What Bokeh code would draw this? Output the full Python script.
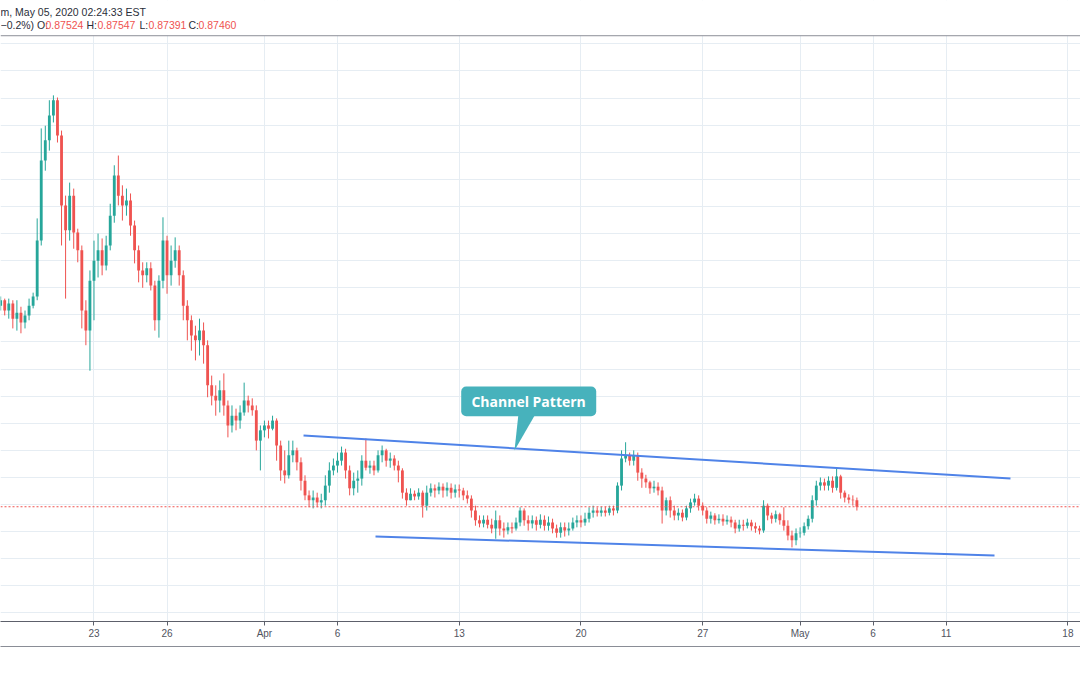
from bokeh.plotting import figure
from bokeh.models import (Range1d, FixedTicker, SingleIntervalTicker, Span, BoxAnnotation,
                          Label, LinearAxis, ColumnDataSource)
from bokeh.embed import file_html
from bokeh.resources import INLINE

# EUR/GBP 4-hour candles, Mar 17 - May 5 2020 (weekends removed, 6 bars per session)
open_ = [
    0.9117, 0.9127, 0.9108, 0.9121, 0.9093, 0.9104, 0.9086, 0.9099, 0.9117, 0.9134,
    0.9237, 0.9385, 0.9422, 0.9468, 0.9496, 0.9431, 0.9302, 0.9256, 0.9320, 0.9252,
    0.9219, 0.9108, 0.9071, 0.9163, 0.9200, 0.9219, 0.9191, 0.9228, 0.9283, 0.9357,
    0.9320, 0.9302, 0.9311, 0.9265, 0.9219, 0.9182, 0.9173, 0.9186, 0.9154, 0.9090,
    0.9163, 0.9237, 0.9173, 0.9200, 0.9219, 0.9173, 0.9117, 0.9090, 0.9062, 0.9053,
    0.9071, 0.9044, 0.8970, 0.8951, 0.8942, 0.8961, 0.8933, 0.8896, 0.8914, 0.8905,
    0.8920, 0.8942, 0.8933, 0.8924, 0.8868, 0.8887, 0.8896, 0.8890, 0.8905, 0.8859,
    0.8813, 0.8804, 0.8841, 0.8850, 0.8828, 0.8794, 0.8767, 0.8758, 0.8763, 0.8754,
    0.8758, 0.8785, 0.8813, 0.8822, 0.8831, 0.8846, 0.8813, 0.8780, 0.8794, 0.8798,
    0.8831, 0.8818, 0.8822, 0.8813, 0.8841, 0.8850, 0.8831, 0.8835, 0.8822, 0.8813,
    0.8772, 0.8758, 0.8770, 0.8765, 0.8772, 0.8748, 0.8772, 0.8780, 0.8776, 0.8783,
    0.8776, 0.8781, 0.8772, 0.8778, 0.8776, 0.8767, 0.8761, 0.8739, 0.8721, 0.8715,
    0.8722, 0.8713, 0.8706, 0.8721, 0.8706, 0.8702, 0.8708, 0.8706, 0.8717, 0.8739,
    0.8721, 0.8715, 0.8721, 0.8713, 0.8722, 0.8711, 0.8717, 0.8706, 0.8698, 0.8708,
    0.8702, 0.8706, 0.8717, 0.8721, 0.8717, 0.8724, 0.8735, 0.8739, 0.8735, 0.8739,
    0.8735, 0.8743, 0.8739, 0.8785, 0.8835, 0.8841, 0.8831, 0.8841, 0.8809, 0.8798,
    0.8791, 0.8780, 0.8783, 0.8776, 0.8739, 0.8758, 0.8739, 0.8730, 0.8735, 0.8726,
    0.8743, 0.8754, 0.8761, 0.8748, 0.8739, 0.8724, 0.8730, 0.8721, 0.8724, 0.8719,
    0.8722, 0.8717, 0.8706, 0.8713, 0.8711, 0.8717, 0.8710, 0.8706, 0.8702, 0.8748,
    0.8730, 0.8724, 0.8732, 0.8721, 0.8711, 0.8693, 0.8684, 0.8697, 0.8698, 0.8710,
    0.8724, 0.8758, 0.8785, 0.8791, 0.8785, 0.8794, 0.8781, 0.8802, 0.8772, 0.8763,
    0.8759, 0.8758,
]
high = [
    0.9134, 0.9130, 0.9130, 0.9127, 0.9127, 0.9115, 0.9108, 0.9130, 0.9141, 0.9278,
    0.9444, 0.9449, 0.9496, 0.9505, 0.9501, 0.9440, 0.9320, 0.9344, 0.9333, 0.9259,
    0.9228, 0.9127, 0.9182, 0.9237, 0.9250, 0.9241, 0.9246, 0.9305, 0.9376, 0.9394,
    0.9339, 0.9333, 0.9324, 0.9274, 0.9228, 0.9197, 0.9197, 0.9197, 0.9163, 0.9173,
    0.9280, 0.9246, 0.9228, 0.9243, 0.9228, 0.9182, 0.9127, 0.9099, 0.9080, 0.9093,
    0.9086, 0.9053, 0.8988, 0.8970, 0.8979, 0.8992, 0.8942, 0.8933, 0.8927, 0.8933,
    0.8975, 0.8951, 0.8946, 0.8933, 0.8896, 0.8905, 0.8905, 0.8914, 0.8909, 0.8868,
    0.8850, 0.8868, 0.8868, 0.8855, 0.8837, 0.8804, 0.8776, 0.8776, 0.8772, 0.8770,
    0.8804, 0.8828, 0.8835, 0.8846, 0.8857, 0.8853, 0.8822, 0.8809, 0.8813, 0.8841,
    0.8872, 0.8831, 0.8831, 0.8850, 0.8859, 0.8853, 0.8846, 0.8841, 0.8831, 0.8817,
    0.8780, 0.8780, 0.8776, 0.8780, 0.8776, 0.8785, 0.8789, 0.8787, 0.8791, 0.8789,
    0.8791, 0.8789, 0.8787, 0.8787, 0.8781, 0.8776, 0.8767, 0.8748, 0.8730, 0.8730,
    0.8730, 0.8724, 0.8739, 0.8730, 0.8717, 0.8717, 0.8717, 0.8726, 0.8745, 0.8743,
    0.8730, 0.8730, 0.8728, 0.8732, 0.8730, 0.8728, 0.8724, 0.8713, 0.8717, 0.8717,
    0.8717, 0.8726, 0.8730, 0.8730, 0.8735, 0.8745, 0.8748, 0.8745, 0.8746, 0.8746,
    0.8748, 0.8748, 0.8791, 0.8850, 0.8865, 0.8846, 0.8850, 0.8846, 0.8817, 0.8805,
    0.8794, 0.8794, 0.8791, 0.8783, 0.8763, 0.8765, 0.8748, 0.8743, 0.8741, 0.8748,
    0.8761, 0.8770, 0.8767, 0.8754, 0.8745, 0.8737, 0.8734, 0.8732, 0.8732, 0.8730,
    0.8728, 0.8722, 0.8722, 0.8722, 0.8724, 0.8722, 0.8717, 0.8711, 0.8758, 0.8752,
    0.8735, 0.8739, 0.8735, 0.8745, 0.8721, 0.8702, 0.8706, 0.8708, 0.8717, 0.8730,
    0.8767, 0.8794, 0.8800, 0.8798, 0.8802, 0.8802, 0.8817, 0.8805, 0.8776, 0.8769,
    0.8767, 0.8763,
]
low = [
    0.9108, 0.9099, 0.9093, 0.9075, 0.9071, 0.9066, 0.9075, 0.9090, 0.9112, 0.9127,
    0.9228, 0.9366, 0.9403, 0.9455, 0.9418, 0.9228, 0.9130, 0.9237, 0.9222, 0.9197,
    0.9075, 0.9044, 0.8997, 0.9090, 0.9169, 0.9173, 0.9182, 0.9219, 0.9270, 0.9302,
    0.9274, 0.9283, 0.9246, 0.9195, 0.9160, 0.9150, 0.9160, 0.9145, 0.9071, 0.9058,
    0.9149, 0.9139, 0.9154, 0.9187, 0.9154, 0.9090, 0.9053, 0.9034, 0.9016, 0.9025,
    0.9010, 0.8948, 0.8933, 0.8914, 0.8920, 0.8914, 0.8874, 0.8883, 0.8887, 0.8890,
    0.8914, 0.8920, 0.8914, 0.8850, 0.8813, 0.8874, 0.8872, 0.8887, 0.8831, 0.8794,
    0.8789, 0.8798, 0.8828, 0.8813, 0.8776, 0.8758, 0.8745, 0.8743, 0.8745, 0.8743,
    0.8748, 0.8772, 0.8804, 0.8809, 0.8822, 0.8798, 0.8767, 0.8767, 0.8772, 0.8785,
    0.8813, 0.8807, 0.8804, 0.8809, 0.8828, 0.8820, 0.8818, 0.8813, 0.8791, 0.8761,
    0.8748, 0.8758, 0.8758, 0.8759, 0.8726, 0.8739, 0.8765, 0.8763, 0.8769, 0.8763,
    0.8765, 0.8761, 0.8763, 0.8763, 0.8758, 0.8752, 0.8726, 0.8711, 0.8708, 0.8708,
    0.8706, 0.8697, 0.8687, 0.8693, 0.8689, 0.8695, 0.8697, 0.8702, 0.8710, 0.8711,
    0.8702, 0.8706, 0.8702, 0.8706, 0.8702, 0.8702, 0.8697, 0.8689, 0.8689, 0.8691,
    0.8693, 0.8702, 0.8708, 0.8708, 0.8711, 0.8717, 0.8726, 0.8728, 0.8728, 0.8728,
    0.8730, 0.8730, 0.8734, 0.8776, 0.8828, 0.8822, 0.8822, 0.8794, 0.8781, 0.8781,
    0.8770, 0.8772, 0.8767, 0.8715, 0.8730, 0.8726, 0.8721, 0.8721, 0.8719, 0.8721,
    0.8735, 0.8748, 0.8739, 0.8730, 0.8715, 0.8715, 0.8713, 0.8715, 0.8711, 0.8713,
    0.8708, 0.8697, 0.8700, 0.8702, 0.8706, 0.8702, 0.8698, 0.8695, 0.8698, 0.8721,
    0.8715, 0.8717, 0.8713, 0.8702, 0.8684, 0.8671, 0.8675, 0.8689, 0.8693, 0.8704,
    0.8717, 0.8748, 0.8776, 0.8776, 0.8776, 0.8772, 0.8776, 0.8761, 0.8754, 0.8752,
    0.8748, 0.8739,
]
close = [
    0.9127, 0.9108, 0.9121, 0.9093, 0.9104, 0.9086, 0.9099, 0.9117, 0.9134, 0.9237,
    0.9385, 0.9422, 0.9468, 0.9496, 0.9431, 0.9302, 0.9256, 0.9320, 0.9252, 0.9219,
    0.9108, 0.9071, 0.9163, 0.9200, 0.9219, 0.9191, 0.9228, 0.9283, 0.9357, 0.9320,
    0.9302, 0.9311, 0.9265, 0.9219, 0.9182, 0.9173, 0.9186, 0.9154, 0.9090, 0.9163,
    0.9237, 0.9173, 0.9200, 0.9219, 0.9173, 0.9117, 0.9090, 0.9062, 0.9053, 0.9071,
    0.9044, 0.8970, 0.8951, 0.8942, 0.8961, 0.8933, 0.8896, 0.8914, 0.8905, 0.8920,
    0.8942, 0.8933, 0.8924, 0.8868, 0.8887, 0.8896, 0.8890, 0.8905, 0.8859, 0.8813,
    0.8804, 0.8841, 0.8850, 0.8828, 0.8794, 0.8767, 0.8758, 0.8763, 0.8754, 0.8758,
    0.8785, 0.8813, 0.8822, 0.8831, 0.8846, 0.8813, 0.8780, 0.8794, 0.8798, 0.8831,
    0.8818, 0.8822, 0.8813, 0.8841, 0.8850, 0.8831, 0.8835, 0.8822, 0.8813, 0.8772,
    0.8758, 0.8770, 0.8765, 0.8772, 0.8748, 0.8772, 0.8780, 0.8776, 0.8783, 0.8776,
    0.8781, 0.8772, 0.8778, 0.8776, 0.8767, 0.8761, 0.8739, 0.8721, 0.8715, 0.8722,
    0.8713, 0.8706, 0.8721, 0.8706, 0.8702, 0.8708, 0.8706, 0.8717, 0.8739, 0.8721,
    0.8715, 0.8721, 0.8713, 0.8722, 0.8711, 0.8717, 0.8706, 0.8698, 0.8708, 0.8702,
    0.8706, 0.8717, 0.8721, 0.8717, 0.8724, 0.8735, 0.8739, 0.8735, 0.8739, 0.8735,
    0.8743, 0.8739, 0.8785, 0.8835, 0.8841, 0.8831, 0.8841, 0.8809, 0.8798, 0.8791,
    0.8780, 0.8783, 0.8776, 0.8739, 0.8758, 0.8739, 0.8730, 0.8735, 0.8726, 0.8743,
    0.8754, 0.8761, 0.8748, 0.8739, 0.8724, 0.8730, 0.8721, 0.8724, 0.8719, 0.8722,
    0.8717, 0.8706, 0.8713, 0.8711, 0.8717, 0.8710, 0.8706, 0.8702, 0.8748, 0.8730,
    0.8724, 0.8732, 0.8721, 0.8711, 0.8693, 0.8684, 0.8697, 0.8698, 0.8710, 0.8724,
    0.8758, 0.8785, 0.8791, 0.8785, 0.8794, 0.8781, 0.8802, 0.8772, 0.8763, 0.8759,
    0.8758, 0.8746,
]

# time axis: bar index of the first bar of each labelled session
tick_bars = [23, 41, 65, 83, 113, 143, 173, 197, 215, 233, 263]
tick_labels = ["23", "26", "Apr", "6", "13", "20", "27", "May", "6", "11", "18"]

# drawn channel (bar index, price)
upper_x = [74.63, 248.85]
upper_y = [0.88774, 0.87981]
lower_x = [92.37, 244.91]
lower_y = [0.86911, 0.86560]

header_1 = "m, May 05, 2020 02:24:33 EST"
header_2 = [("\u22120.2%) O:", 0, "#2a2e39"), ("0.87524", 45, "#ef5350"),
            ("H:", 86, "#2a2e39"), ("0.87547", 97, "#ef5350"),
            ("L:", 139, "#2a2e39"), ("0.87391", 148, "#ef5350"),
            ("C:", 188, "#2a2e39"), ("0.87460", 198, "#ef5350")]

UP, DOWN = "#26a69a", "#ef5350"
bars = list(range(len(close)))
colors = [UP if c >= o else DOWN for o, c in zip(open_, close)]
src = ColumnDataSource(dict(
    x=bars, high=high, low=low,
    top=[max(o, c) for o, c in zip(open_, close)],
    bottom=[min(o, c) for o, c in zip(open_, close)],
    color=colors,
))

Y_TOP = 0.9680
Y_BOT = 0.85343
p = figure(width=1080, height=675, x_range=Range1d(-0.04, 266.1), y_range=Range1d(Y_BOT, Y_TOP),
           y_axis_location=None, output_backend="svg", toolbar_location=None,
           min_border_left=0, min_border_right=0, min_border_top=0, min_border_bottom=54,
           background_fill_color="white", border_fill_color="white")
p.outline_line_color = None

GRID = "#e6edf3"
p.xgrid.ticker = FixedTicker(ticks=tick_bars)
p.xgrid.grid_line_color = GRID
p.ygrid.ticker = SingleIntervalTicker(interval=0.005, num_minor_ticks=0)
p.ygrid.grid_line_color = GRID

p.xaxis.ticker = FixedTicker(ticks=tick_bars)
p.xaxis.major_label_overrides = {b: l for b, l in zip(tick_bars, tick_labels)}
p.xaxis.axis_line_color = "#5d606b"
p.xaxis.major_tick_line_color = "#5d606b"
p.xaxis.major_tick_in = 0
p.xaxis.major_tick_out = 4
p.xaxis.minor_tick_line_color = None
p.xaxis.major_label_standoff = 2
p.xaxis.major_label_text_font = "Liberation Sans"
p.xaxis.major_label_text_font_size = "10px"
p.xaxis.major_label_text_color = "#50535e"
p.xaxis.axis_label = "\u00a0"
p.xaxis.axis_label_text_font_size = "2px"
p.xaxis.axis_label_standoff = 0

ax2 = LinearAxis(ticker=FixedTicker(ticks=[]), axis_line_color="#8a8d96",
                 major_tick_line_color=None, minor_tick_line_color=None,
                 major_label_text_font_size="0px")
p.add_layout(ax2, "below")

# candles
p.segment(x0="x", y0="high", x1="x", y1="low", line_color="color", line_width=1, source=src)
p.vbar(x="x", width=0.7, top="top", bottom="bottom", fill_color="color",
       line_color=None, source=src)

# channel lines
CH = "#4f83e8"
p.line(upper_x, upper_y, line_color=CH, line_width=2)
p.line(lower_x, lower_y, line_color=CH, line_width=2)

# last price line
p.add_layout(Span(location=close[-1], dimension="width", line_color="#ef5350",
                  line_width=1, line_dash="2 2"))

# callout
CALL = "#47b2bc"
p.patch([127.6, 131.8, 126.62], [0.8917, 0.8917, 0.88497], fill_color=CALL, line_color=None)
p.add_layout(BoxAnnotation(left=113.49, right=146.76, bottom=0.8913, top=0.89678,
                           fill_color=CALL, fill_alpha=1, line_color=None, border_radius=5))
p.add_layout(Label(x=130.1, y=0.8940, text="Channel Pattern", text_align="center",
                   text_baseline="middle", text_color="white", text_font="Open Sans",
                   text_font_style="bold", text_font_size="14px"))

# header strip
p.add_layout(BoxAnnotation(bottom=0.9615, fill_color="white", fill_alpha=1, line_color=None))
p.add_layout(Span(location=0.9615, dimension="width", line_color="#8c8f98", line_width=1))
p.add_layout(Label(x=-0.04, y=0.96597, text=header_1, text_baseline="middle",
                   text_font="Liberation Sans", text_font_size="10.5px", text_color="#2a2e39"))
for txt, off, col in header_2:
    p.add_layout(Label(x=-0.04, y=0.96357, x_offset=off, text=txt, text_baseline="middle",
                       text_font="Liberation Sans", text_font_size="10.5px", text_color=col))

open("out.html", "w").write(file_html(p, INLINE))
